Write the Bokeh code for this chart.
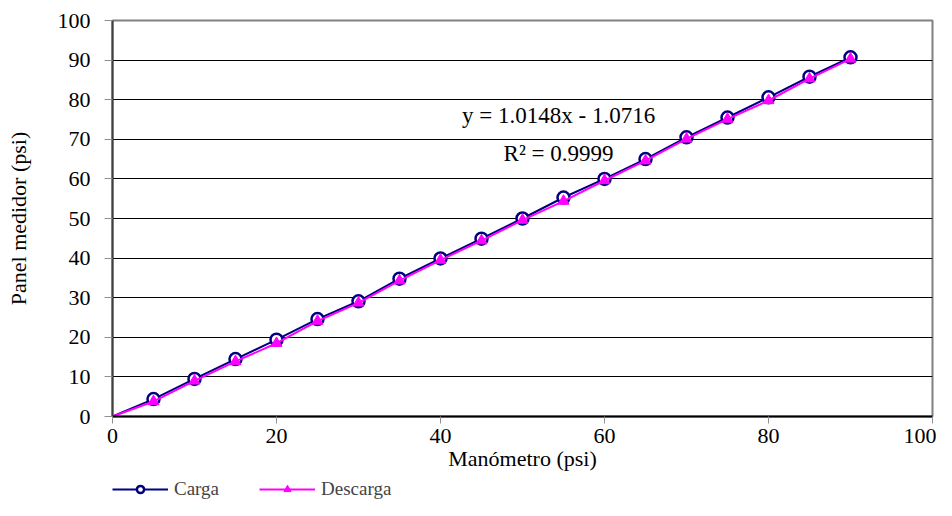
from bokeh.plotting import figure
from bokeh.models import Range1d, FixedTicker, Legend, LegendItem, Label
from bokeh.layouts import column
from bokeh.embed import file_html
from bokeh.resources import INLINE

# Data
manometro = [0, 5, 10, 15, 20, 25, 30, 35, 40, 45, 50, 55, 60, 65, 70, 75, 80, 85, 90]
carga = [0, 4.4, 9.5, 14.5, 19.4, 24.6, 29.1, 34.8, 39.9, 44.9, 50.0, 55.3, 60.0, 65.0, 70.5, 75.5, 80.6, 85.8, 90.7]
descarga = [0, 3.8, 9.0, 13.9, 18.5, 24.1, 28.7, 34.3, 39.5, 44.4, 49.6, 54.4, 59.6, 64.6, 70.1, 75.1, 79.8, 85.3, 90.3]
x_ticks = [0, 20, 40, 60, 80, 100]
y_ticks = [0, 10, 20, 30, 40, 50, 60, 70, 80, 90, 100]
series_names = ["Carga", "Descarga"]
equation = "y = 1.0148x - 1.0716"
r2_text = "R\u00b2 = 0.9999"

FONT = "Liberation Serif"
NAVY = "#000080"
MAGENTA = "#ff00ff"

p = figure(width=936, height=478, output_backend="svg", toolbar_location=None,
           x_range=Range1d(0, 100), y_range=Range1d(0, 100),
           min_border_left=112, min_border_right=4, min_border_top=20,
           min_border_bottom=62)

p.outline_line_color = "#808080"
p.outline_line_width = 2

p.xgrid.visible = False
p.ygrid.ticker = FixedTicker(ticks=y_ticks)
p.ygrid.grid_line_color = "#000000"
p.ygrid.grid_line_width = 1

p.xaxis.ticker = FixedTicker(ticks=x_ticks)
p.yaxis.ticker = FixedTicker(ticks=y_ticks)
for ax in (p.xaxis, p.yaxis):
    ax.minor_tick_line_color = None
    ax.major_label_text_font = FONT
    ax.major_label_text_font_size = "22px"
    ax.major_label_text_color = "#000000"
    ax.axis_label_text_font = FONT
    ax.axis_label_text_font_size = "22px"
    ax.axis_label_text_font_style = "normal"
    ax.axis_label_text_color = "#000000"
    ax.major_tick_in = 0
    ax.major_tick_line_color = "#909090"

p.xaxis.axis_label = "Manómetro (psi)"
p.yaxis.axis_label = "Panel medidor (psi)"
p.xaxis.axis_line_color = "#000000"
p.xaxis.axis_line_width = 2
p.yaxis.axis_line_color = "#404040"
p.yaxis.axis_line_width = 2
p.xaxis.major_tick_out = 7
p.yaxis.major_tick_out = 8
p.xaxis.major_label_standoff = 5
p.yaxis.major_label_standoff = 14
p.xaxis.axis_label_standoff = 0
p.yaxis.axis_label_standoff = 24

p.line(manometro, carga, line_color=NAVY, line_width=2)
p.scatter(manometro[1:], carga[1:], marker="circle", size=12,
          line_color=NAVY, line_width=2.5, fill_color="#ffffff")
p.line(manometro, descarga, line_color=MAGENTA, line_width=2)
p.scatter(manometro[1:], descarga[1:], marker="triangle", size=11,
          line_color=MAGENTA, fill_color=MAGENTA)

p.add_layout(Label(x=54.4, y=76.0, text=equation, text_align="center",
                   text_baseline="middle", text_font=FONT, text_font_size="23px",
                   text_color="#000000"))
p.add_layout(Label(x=54.4, y=66.4, text=r2_text, text_align="center",
                   text_baseline="middle", text_font=FONT, text_font_size="23px",
                   text_color="#000000"))

# Legend strip below the chart (series drawn hidden, only their legend shows)
pl = figure(width=936, height=22, output_backend="svg", toolbar_location=None,
            x_range=Range1d(0, 100), y_range=Range1d(0, 100),
            x_axis_location=None, y_axis_location=None,
            min_border_left=0, min_border_right=0, min_border_top=0,
            min_border_bottom=0)
pl.grid.visible = False
pl.outline_line_color = None
ll1 = pl.line(manometro, carga, line_color=NAVY, line_width=2, visible=False)
ls1 = pl.scatter(manometro, carga, marker="circle", size=12, line_color=NAVY,
                 line_width=2.5, fill_color="#ffffff", visible=False)
ll2 = pl.line(manometro, descarga, line_color=MAGENTA, line_width=2, visible=False)
ls2 = pl.scatter(manometro, descarga, marker="triangle", size=11,
                 line_color=MAGENTA, fill_color=MAGENTA, visible=False)
legend = Legend(items=[LegendItem(label=series_names[0], renderers=[ll1, ls1]),
                       LegendItem(label=series_names[1], renderers=[ll2, ls2])],
                orientation="horizontal", location=(0, 0),
                glyph_width=56, glyph_height=18, label_standoff=6, spacing=40,
                padding=0, margin=0, border_line_alpha=0, background_fill_alpha=0,
                inactive_fill_alpha=0,
                label_text_font=FONT, label_text_font_size="19px")
pl.add_layout(legend)

layout = column(p, pl, spacing=0)
open("out.html", "w").write(file_html(layout, INLINE))
